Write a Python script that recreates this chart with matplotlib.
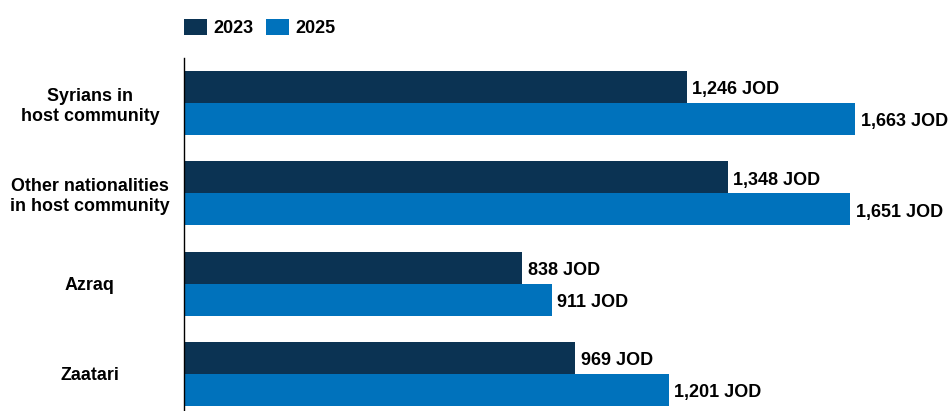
import matplotlib.pyplot as plt
import numpy as np

categories = ['Syrians in\nhost community', 'Other nationalities\nin host community', 'Azraq', 'Zaatari']
values_2023 = [1246, 1348, 838, 969]
values_2025 = [1663, 1651, 911, 1201]
series_names = ['2023', '2025']

dark = '#0b3353'
blue = '#0072bc'

plt.rcParams['font.family'] = ['Liberation Sans', 'DejaVu Sans']
plt.rcParams['font.weight'] = 'bold'

fig = plt.figure(figsize=(9.51, 4.11), dpi=100)
ax = fig.add_axes([184 / 951, 1 / 411, 767 / 951, 352 / 411])

y = np.arange(len(categories))
h = 0.354
b1 = ax.barh(y - h / 2, values_2023, height=h, color=dark, label=series_names[0])
b2 = ax.barh(y + h / 2, values_2025, height=h, color=blue, label=series_names[1])

fmt = lambda v: f'{v:,.0f} JOD'
labels = ax.bar_label(b1, labels=[fmt(v) for v in values_2023], padding=4, fontsize=13, fontweight='bold')
labels += ax.bar_label(b2, labels=[fmt(v) for v in values_2025], padding=4, fontsize=13, fontweight='bold')
# nudge value labels slightly down (offset is in points)
for t in labels:
    dx, dy = t.xyann
    t.xyann = (dx, dy - 2)

ax.set_xlim(0, 1901)
ax.set_ylim(3.4, -0.5)
ax.set_yticks(y)
ax.set_yticklabels(categories, fontsize=12.9, fontweight='bold', ha='center', multialignment='center')
ax.tick_params(axis='y', length=0, pad=67.7)
ax.set_xticks([])
for s in ['top', 'right', 'bottom']:
    ax.spines[s].set_visible(False)
ax.spines['left'].set_linewidth(1.0)
ax.spines['left'].set_color('black')

fig.legend(handles=[b1, b2], loc='upper left', bbox_to_anchor=(184 / 951, 1 - 19 / 411),
           ncol=2, frameon=False, handlelength=1.28, handleheight=1.0,
           handletextpad=0.33, columnspacing=0.72, borderaxespad=0, borderpad=0,
           prop={'weight': 'bold', 'size': 13})

fig.savefig('out.png', dpi=100)
